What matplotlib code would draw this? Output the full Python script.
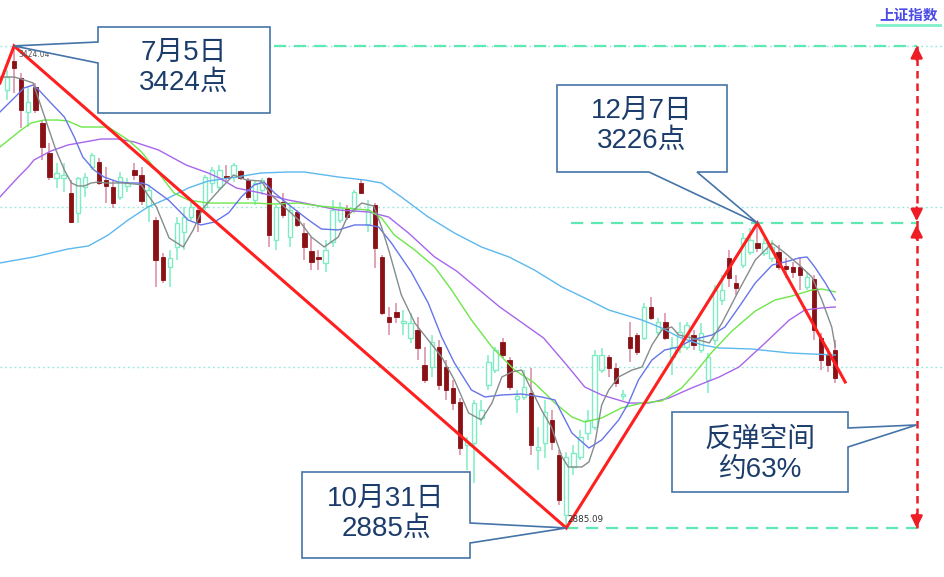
import matplotlib
matplotlib.use("Agg")
import matplotlib.pyplot as plt
from matplotlib.patches import Polygon
import numpy as np

# ---- daily candles of the index (open / high / low / close) ----
opens = [
    3374.8, 3407.2, 3388.2, 3350.2, 3378.1, 3337.9, 3304.3, 3276.4, 3276.4, 3259.6,
    3237.3, 3266.3, 3288.7, 3294.3, 3274.2, 3266.3, 3255.2, 3267.5, 3285.3, 3279.8,
    3245.1, 3229.4, 3188.1, 3176.9, 3199.3, 3216.0, 3232.8, 3240.6, 3244.0, 3270.8,
    3266.3, 3278.6, 3277.5, 3284.2, 3274.2, 3251.8, 3263.0, 3276.4, 3207.1, 3249.6,
    3210.4, 3238.4, 3214.9, 3194.8, 3188.1, 3181.4, 3204.8, 3229.4, 3242.9, 3240.6,
    3270.8, 3223.9, 3246.2, 3188.1, 3121.0, 3126.6, 3114.3, 3097.5, 3106.5, 3067.3,
    3065.1, 3087.5, 3065.1, 3041.6, 3026.0, 2977.9, 2980.1, 3008.1, 3045.0, 3061.7,
    3093.0, 3072.9, 3029.3, 3031.6, 3036.0, 2972.3, 2980.1, 3005.8, 2966.7, 2899.6,
    2953.3, 2964.5, 2991.3, 2998.0, 3061.7, 3076.3, 3064.0, 3032.7, 3098.6, 3100.9,
    3097.5, 3132.2, 3104.2, 3115.4, 3076.3, 3087.5, 3087.5, 3100.9, 3084.1, 3050.6,
    3095.3, 3140.0, 3186.9, 3159.0, 3179.1, 3193.7, 3203.7, 3192.5, 3187.0, 3193.7,
    3178.0, 3176.9, 3176.9, 3154.5, 3163.5, 3097.5, 3078.5, 3084.1,
]
highs = [
    3397.1, 3424.04, 3393.8, 3378.1, 3382.6, 3341.2, 3315.5, 3293.2, 3293.2, 3274.2,
    3277.5, 3282.0, 3304.3, 3298.8, 3288.7, 3274.2, 3283.1, 3276.4, 3293.2, 3288.7,
    3268.6, 3232.8, 3192.5, 3195.9, 3232.8, 3244.0, 3251.8, 3244.0, 3279.8, 3288.7,
    3290.9, 3290.9, 3293.2, 3285.3, 3276.4, 3273.0, 3276.4, 3277.5, 3246.2, 3259.6,
    3246.2, 3240.6, 3226.1, 3210.4, 3195.9, 3207.1, 3251.8, 3249.6, 3246.2, 3263.0,
    3274.2, 3251.8, 3248.4, 3190.3, 3132.2, 3136.6, 3128.8, 3125.5, 3121.0, 3087.5,
    3100.9, 3095.3, 3072.9, 3050.6, 3030.4, 2986.8, 3028.2, 3028.2, 3078.5, 3087.5,
    3097.5, 3076.3, 3039.4, 3061.7, 3064.0, 2998.0, 3028.2, 3017.0, 2972.3, 2970.1,
    2977.9, 2994.7, 3017.0, 3084.1, 3086.4, 3078.5, 3069.6, 3039.4, 3115.4, 3103.1,
    3136.6, 3143.4, 3119.9, 3125.5, 3098.6, 3115.4, 3115.4, 3106.5, 3114.3, 3080.8,
    3156.8, 3167.9, 3195.9, 3168.0, 3214.9, 3220.5, 3226.0, 3209.3, 3207.1, 3201.5,
    3187.0, 3182.5, 3188.1, 3171.3, 3168.0, 3103.1, 3086.4, 3095.3,
]
lows = [
    3363.6, 3371.4, 3332.3, 3333.4, 3349.1, 3296.5, 3274.2, 3265.2, 3260.7, 3226.1,
    3226.1, 3255.2, 3285.3, 3268.6, 3248.4, 3242.9, 3251.8, 3260.7, 3274.2, 3246.2,
    3227.2, 3154.5, 3159.0, 3154.5, 3184.7, 3195.9, 3229.4, 3216.0, 3240.6, 3259.6,
    3263.0, 3271.9, 3271.9, 3274.2, 3251.8, 3246.2, 3257.4, 3199.3, 3195.9, 3231.7,
    3199.3, 3221.6, 3184.7, 3173.5, 3173.5, 3171.3, 3199.3, 3226.1, 3229.4, 3237.3,
    3258.5, 3216.0, 3175.8, 3123.2, 3100.9, 3114.3, 3100.9, 3092.0, 3072.9, 3047.2,
    3053.9, 3039.4, 3028.2, 3017.0, 2966.7, 2949.9, 2935.4, 3000.2, 3039.4, 3058.4,
    3075.2, 3039.4, 3013.7, 3028.2, 2966.7, 2949.9, 2963.4, 2972.3, 2910.8, 2885.09,
    2944.4, 2961.1, 2983.5, 2994.7, 3058.4, 3053.9, 3042.8, 3028.2, 3070.7, 3078.5,
    3095.3, 3117.6, 3100.9, 3095.3, 3056.2, 3080.8, 3084.1, 3084.1, 3080.8, 3036.0,
    3089.7, 3134.4, 3154.5, 3145.6, 3175.8, 3190.3, 3193.7, 3189.2, 3182.5, 3173.5,
    3164.6, 3164.6, 3151.2, 3151.2, 3095.3, 3061.7, 3059.5, 3047.2,
]
closes = [
    3389.3, 3399.4, 3352.4, 3361.4, 3352.4, 3311.1, 3277.5, 3282.0, 3279.8, 3227.2,
    3276.4, 3277.5, 3302.1, 3270.8, 3267.5, 3248.4, 3277.5, 3270.8, 3279.8, 3250.7,
    3263.0, 3184.7, 3162.4, 3187.0, 3226.1, 3232.8, 3244.0, 3227.2, 3277.5, 3285.3,
    3285.3, 3276.4, 3290.9, 3276.4, 3255.2, 3270.8, 3274.2, 3212.7, 3244.0, 3235.0,
    3240.6, 3223.9, 3199.3, 3182.5, 3185.8, 3195.9, 3240.6, 3244.0, 3232.8, 3260.7,
    3259.6, 3240.6, 3198.1, 3125.5, 3115.4, 3121.0, 3116.5, 3114.3, 3086.4, 3050.6,
    3093.0, 3045.0, 3039.4, 3024.8, 2974.5, 2981.3, 3024.8, 3017.0, 3070.7, 3084.1,
    3078.5, 3042.8, 3032.7, 3042.8, 2977.9, 2975.6, 3014.8, 2981.3, 2916.4, 2964.5,
    2969.0, 2986.8, 3005.8, 3078.5, 3078.5, 3064.0, 3047.2, 3034.9, 3086.4, 3081.9,
    3132.2, 3119.9, 3115.4, 3097.5, 3087.5, 3104.2, 3112.0, 3089.7, 3103.1, 3076.3,
    3151.2, 3151.2, 3164.6, 3153.4, 3209.3, 3207.1, 3198.1, 3203.7, 3199.3, 3176.9,
    3174.7, 3171.3, 3168.0, 3165.7, 3106.5, 3072.9, 3067.3, 3052.8,
]

# ---- moving averages (candle position, value) ----
ma5_x = [-1.0, 1.0, 2.0, 3.7, 4.5, 5.8, 6.9, 8.1, 9.1, 10.0, 10.9, 11.9, 12.9, 14.0, 15.1,
         16.4, 18.0, 19.0, 19.9, 21.1, 22.9, 24.9, 26.3, 27.7, 30.0, 32.0, 33.8, 35.9, 37.3,
         39.2, 41.2, 43.0, 44.8, 46.8, 48.2, 50.1, 51.8, 52.9, 54.0, 55.7, 57.6, 59.5, 61.4,
         63.2, 65.2, 67.0, 68.5, 69.9, 71.3, 72.7, 74.1, 75.5, 76.9, 78.4, 79.3, 81.2, 82.2,
         83.0, 84.0, 85.0, 86.4, 88.3, 89.7, 91.1, 92.5, 93.9, 94.9, 96.7, 99.2, 101.0, 103.4,
         105.7, 108.1, 109.9, 111.9, 113.7, 115.1, 116.5, 117.0]
ma5_y = [3389.3, 3389.3, 3387.1, 3382.6, 3363.6, 3333.4, 3307.7, 3285.3, 3270.8, 3267.5,
         3267.5, 3270.8, 3271.9, 3270.8, 3270.8, 3270.8, 3269.7, 3268.6, 3257.4, 3244.0,
         3209.3, 3199.3, 3218.3, 3242.9, 3263.0, 3279.8, 3274.2, 3273.0, 3257.4, 3244.0,
         3229.4, 3210.4, 3199.3, 3210.4, 3235.0, 3248.4, 3245.1, 3221.6, 3193.7, 3145.6,
         3114.3, 3095.3, 3076.3, 3050.6, 3013.7, 3005.8, 3024.8, 3053.9, 3059.5, 3061.7,
         3039.4, 3017.0, 2998.0, 2964.5, 2953.3, 2953.3, 2958.9, 2978.0, 3022.6, 3039.4,
         3054.0, 3061.7, 3065.1, 3089.7, 3106.5, 3109.8, 3100.9, 3097.5, 3092.0, 3114.3,
         3151.2, 3184.7, 3203.7, 3192.5, 3179.1, 3165.7, 3140.0, 3109.8, 3087.5]

ma10_x = [-1.0, 1.0, 2.4, 3.7, 4.5, 6.2, 8.1, 9.5, 10.7, 12.3, 13.7, 15.7, 17.5, 19.0, 19.9,
          22.8, 25.6, 27.4, 29.3, 31.3, 33.1, 34.9, 36.3, 37.8, 40.2, 42.6, 44.4, 46.8, 49.1,
          51.1, 52.5, 54.3, 57.1, 59.5, 61.4, 63.2, 65.6, 67.5, 69.9, 72.7, 75.5, 77.4, 79.8,
          82.2, 84.0, 86.4, 87.8, 89.2, 91.1, 92.9, 94.9, 96.7, 99.6, 101.4, 103.4, 105.7,
          108.1, 109.9, 111.9, 113.0, 114.1, 115.6, 117.0]
ma10_y = [3350.2, 3365.8, 3377.0, 3380.4, 3374.8, 3360.3, 3344.6, 3322.2, 3299.9, 3285.3,
          3277.5, 3271.9, 3270.8, 3270.8, 3268.6, 3251.8, 3229.4, 3223.9, 3227.2, 3237.3,
          3255.2, 3268.6, 3271.9, 3259.6, 3244.0, 3229.4, 3219.4, 3218.3, 3223.9, 3223.9,
          3221.6, 3203.7, 3171.3, 3136.6, 3098.6, 3069.6, 3039.4, 3031.6, 3033.8, 3034.9,
          3031.6, 3028.2, 2991.3, 2974.5, 2983.5, 3005.8, 3024.8, 3050.6, 3072.9, 3084.1,
          3087.5, 3095.3, 3100.9, 3109.8, 3132.2, 3159.0, 3179.1, 3182.5, 3187.0, 3188.1,
          3176.9, 3159.0, 3140.0]

ma20_x = [-1.0, 0.6, 2.0, 3.4, 5.2, 7.2, 8.6, 10.5, 11.9, 14.3, 17.1, 19.0, 21.4, 23.6, 25.6,
          28.4, 32.1, 34.9, 37.8, 41.2, 44.0, 47.2, 51.1, 52.9, 54.7, 57.6, 60.4, 62.8, 65.6,
          68.5, 71.7, 74.5, 77.4, 79.8, 81.6, 84.0, 86.8, 89.7, 92.5, 95.3, 96.7, 99.6, 102.4,
          105.7, 108.5, 110.9, 113.7, 115.1, 117.0]
ma20_y = [3311.1, 3321.1, 3330.1, 3337.9, 3341.2, 3341.2, 3340.1, 3333.4, 3333.4, 3333.4,
          3318.9, 3305.5, 3282.0, 3259.6, 3251.8, 3248.4, 3248.4, 3248.4, 3247.3, 3248.4,
          3245.1, 3242.9, 3240.6, 3231.7, 3212.7, 3195.9, 3176.9, 3151.2, 3117.6, 3087.5,
          3061.7, 3047.2, 3024.8, 3009.2, 3003.6, 3008.1, 3019.3, 3024.8, 3027.1, 3041.6,
          3053.9, 3081.9, 3105.3, 3127.7, 3140.0, 3144.5, 3151.2, 3152.3, 3149.0]

ma30_x = [-1.0, 1.6, 3.0, 3.8, 6.2, 8.6, 10.9, 13.3, 15.7, 18.0, 21.4, 25.3, 28.4, 30.0, 32.4,
          35.9, 39.7, 42.0, 46.8, 51.1, 53.9, 56.7, 60.4, 63.5, 69.6, 75.8, 79.3, 81.6, 84.0,
          87.8, 90.7, 93.5, 96.7, 100.6, 103.4, 107.1, 110.5, 112.7, 115.1, 117.0]
ma30_y = [3255.2, 3277.5, 3288.7, 3296.5, 3306.6, 3313.3, 3316.6, 3320.0, 3320.0, 3316.6,
          3307.7, 3290.9, 3282.0, 3276.4, 3265.2, 3259.6, 3251.8, 3248.4, 3240.6, 3238.4,
          3232.8, 3215.0, 3188.1, 3172.4, 3132.2, 3097.5, 3065.1, 3042.8, 3033.8, 3024.8,
          3024.8, 3030.4, 3041.6, 3053.9, 3065.1, 3092.0, 3117.6, 3128.8, 3131.1, 3132.2]

ma60_x = [-1.0, 3.8, 8.6, 11.5, 14.3, 17.1, 19.9, 22.8, 25.6, 28.4, 32.4, 35.9, 39.7, 42.0,
          46.8, 50.5, 52.9, 55.7, 59.5, 63.2, 67.0, 70.9, 74.5, 78.4, 82.2, 85.0, 89.7, 92.5,
          94.9, 98.2, 100.6, 105.2, 110.5, 113.7, 117.0]
ma60_y = [3181.4, 3188.1, 3197.0, 3200.4, 3212.7, 3229.4, 3244.0, 3254.0, 3265.2, 3273.0,
          3277.5, 3282.0, 3283.1, 3283.1, 3277.5, 3274.2, 3270.8, 3255.2, 3232.8, 3214.9,
          3199.3, 3188.1, 3173.5, 3154.5, 3140.0, 3128.8, 3117.6, 3108.7, 3098.6, 3089.7,
          3086.4, 3085.2, 3080.8, 3079.6, 3078.5]

# ---- turning points and reference levels ----
trend_x = [-1.0, 1, 79, 106, 118.4]
trend_y = [3382.6, 3424.04, 2885.09, 3226.0, 3048.3]
peak_val, trough_val, rebound_val = 3424.04, 2885.09, 3226.0
grid_levels = [3424.04, 3244.39, 3064.74]
arrow_pos = 128.5
wedge_val = 3000.3

W, H = 945, 577
fig = plt.figure(figsize=(W / 100, H / 100), dpi=100)
ax = fig.add_axes([0, 0, 1, 1])
ax.set_xlim(-0.99, 132.5)
ax.set_ylim(2830.3, 3475.4)
ax.axis("off")

CJK = ["Liberation Sans", "Noto Sans CJK SC"]
RED_BODY = "#8a1116"
RED_WICK = "#d88aa2"
GREEN_C = "#7eedc3"
LEVEL_GREEN = "#5ee8b2"
GRID_CYAN = "#8fe9dc"
ARROW_RED = "#ee1c24"
BOX_EDGE = "#4574a8"
TEXT_NAVY = "#1c3d6b"

# dotted reference grid and dashed price levels
for v in grid_levels:
    ax.axhline(v, color=GRID_CYAN, lw=1.0, ls=(0, (1.2, 2.2)), zorder=1)
ax.hlines(peak_val, 1, arrow_pos, color=LEVEL_GREEN, lw=1.6, ls=(0, (5.5, 3.5)), zorder=1)
ax.hlines(rebound_val, 79.6, arrow_pos, color=LEVEL_GREEN, lw=1.6, ls=(0, (5.5, 3.5)), zorder=1)
ax.hlines(trough_val, 79, arrow_pos, color=LEVEL_GREEN, lw=1.6, ls=(0, (5.5, 3.5)), zorder=1)

# candles
o = np.array(opens)
h = np.array(highs)
l = np.array(lows)
c = np.array(closes)
idx = np.arange(len(c))
up = c >= o
dn = ~up
ax.vlines(idx[dn], l[dn], h[dn], color=RED_WICK, lw=1.1, zorder=2)
ax.vlines(idx[up], l[up], h[up], color=GREEN_C, lw=1.1, zorder=2)
ax.bar(idx[dn], (o - c)[dn], bottom=c[dn], width=0.62, color=RED_BODY,
       edgecolor=RED_BODY, lw=0.6, zorder=3)
ax.bar(idx[up], np.maximum((c - o)[up], 0.6), bottom=o[up], width=0.62,
       facecolor="white", edgecolor=GREEN_C, lw=1.0, zorder=3)

# moving averages
for xs, ys, col in [
    (ma60_x, ma60_y, "#5cb8ee"),
    (ma30_x, ma30_y, "#a865ec"),
    (ma20_x, ma20_y, "#6ee64a"),
    (ma10_x, ma10_y, "#6675ea"),
    (ma5_x, ma5_y, "#858c8c"),
]:
    ax.plot(xs, ys, color=col, lw=1.0, zorder=4)

# trend zigzag
ax.plot(trend_x, trend_y, color="#ff1f1f", lw=2.2, zorder=5, solid_joinstyle="miter")

# vertical double arrows for the two swings
ax.plot([arrow_pos, arrow_pos], [trough_val, peak_val], color=ARROW_RED, lw=1.8,
        ls=(0, (3, 2)), zorder=5)
head = dict(arrowstyle="-|>,head_length=0.7,head_width=0.35", color=ARROW_RED,
            lw=1.8, shrinkA=0, shrinkB=0)
for tip, dy in [(peak_val, -10), (rebound_val + 2, 10), (rebound_val - 2, -10), (trough_val, 10)]:
    ax.annotate("", xy=(arrow_pos, tip), xytext=(0, dy), textcoords="offset points",
                arrowprops=head, zorder=6)

# small value labels at the extremes
ax.annotate("3424.04", xy=(1, peak_val), xytext=(3, -3), textcoords="offset points",
            fontsize=5.5, color="#555555", va="top", ha="left", zorder=6)
ax.annotate("2885.09", xy=(79, trough_val), xytext=(1, 3), textcoords="offset points",
            fontsize=6.3, color="#333333", va="bottom", ha="left", zorder=6)


def frac(px, py):
    return (px / W, 1 - py / H)


def data_frac(xv, yv):
    return tuple(ax.transLimits.transform((xv, yv)))


def callout(pts, text, center):
    poly = Polygon(pts, closed=True, transform=ax.transAxes, facecolor="white",
                   edgecolor=BOX_EDGE, lw=1.2, zorder=7, joinstyle="miter")
    ax.add_patch(poly)
    ax.text(*frac(*center), text, transform=ax.transAxes, ha="center", va="center",
            fontsize=20, color=TEXT_NAVY, family=CJK, linespacing=1.22, zorder=8)


callout([frac(98, 27), frac(270, 27), frac(270, 113), frac(98, 113), frac(98, 63),
         data_frac(1, peak_val), frac(98, 42)],
        "7月5日\n3424点", (184, 68))
callout([frac(557, 85), frac(727, 85), frac(727, 172), frac(697, 172),
         data_frac(106, rebound_val), frac(649, 172), frac(557, 172)],
        "12月7日\n3226点", (642, 126))
callout([frac(302, 472), frac(470, 472), frac(470, 523), data_frac(79, trough_val),
         frac(470, 543), frac(470, 558), frac(302, 558)],
        "10月31日\n2885点", (386, 514))
callout([frac(672, 412), frac(848, 412), frac(848, 428), data_frac(arrow_pos, wedge_val),
         frac(848, 447), frac(848, 492), frac(672, 492)],
        "反弹空间\n约63%", (760, 455))

# index name in the corner
ax.text(*frac(909, 15), "上证指数", transform=ax.transAxes, ha="center", va="center",
        fontsize=10.5, fontweight="bold", color="#4a4ae4",
        family=["Noto Sans CJK SC", "DejaVu Sans"], zorder=8)
ax.plot([877 / W, 940 / W], [1 - 25 / H] * 2, transform=ax.transAxes,
        color="#7ff0c8", lw=2.0, zorder=8)

fig.savefig("out.png", dpi=100)
